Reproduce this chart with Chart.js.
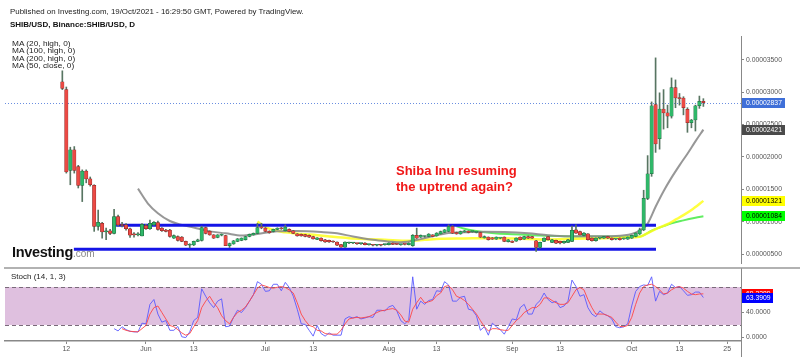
<!DOCTYPE html>
<html>
<head>
<meta charset="utf-8">
<script src="https://cdn.jsdelivr.net/npm/chart.js@4.4.0/dist/chart.umd.min.js"></script>
<style>
  html, body { margin: 0; padding: 0; background: #fff; }
  body { width: 800px; height: 357px; position: relative; overflow: hidden; font-family: 'Liberation Sans', Arial, sans-serif; }
  .abs { position: absolute; white-space: nowrap; }
  #mainWrap { position: absolute; left: 0; top: 0; width: 800px; height: 270px; }
  #stochWrap { position: absolute; left: 0; top: 262px; width: 800px; height: 95px; }
  .ma { font-size: 8.3px; line-height: 9.4px; color: #222; transform: scaleY(0.8); transform-origin: 0 0; }
</style>
</head>
<body>
<div id="mainWrap"><canvas id="mainChart"></canvas></div>
<div id="stochWrap"><canvas id="stochChart"></canvas></div>

<div class="abs" style="left:10px;top:7px;font-size:7.9px;line-height:9px;color:#222">Published on Investing.com, 19/Oct/2021 - 16:29:50 GMT, Powered by TradingView.</div>
<div class="abs" style="left:10px;top:20px;font-size:8px;line-height:9px;font-weight:bold;color:#111">SHIB/USD, Binance:SHIB/USD, D</div>
<div class="abs ma" style="left:12px;top:39.5px">MA (20, high, 0)<br>MA (100, high, 0)<br>MA (200, high, 0)<br>MA (50, close, 0)</div>
<div class="abs" style="left:396px;top:163px;font-size:13px;line-height:16px;font-weight:bold;color:#f01818">Shiba Inu resuming<br>the uptrend again?</div>
<div class="abs" style="left:12px;top:244px;line-height:16px;color:#111"><span style="font-size:14.5px;font-weight:bold;letter-spacing:-0.3px">Investing</span><span style="font-size:10px;color:#888">.com</span></div>
<div class="abs" style="left:11px;top:272px;font-size:8px;line-height:9px;color:#222">Stoch (14, 1, 3)</div>

<script>
// Daily candles, day 0 = 12 May 2021, first candle = 11 May, last = 19 Oct
// prices in millionths of a USD (x 0.000001)
const firstDay = -1;
const opens = [
  31.6, 30.4, 17.9, 21.1, 18.5, 15.6, 17.8, 16.6, 15.6, 9.25,
  9.75, 8.4, 8.6, 8.2, 10.8, 9.5, 9.5, 8.9, 8.0, 7.95,
  7.8, 9.4, 8.9, 9.5, 9.85, 9.0, 8.7, 8.7, 7.45, 7.7,
  7.6, 6.95, 6.35, 6.4, 6.95, 7.1, 9.1, 8.5, 7.95, 7.55,
  7.9, 7.85, 6.3, 6.55, 6.95, 7.1, 7.2, 7.7, 7.95, 8.2,
  9.1, 9.0, 8.5, 8.5, 8.8, 9.0, 8.6, 8.8, 8.6, 8.1,
  8.05, 8.0, 7.9, 7.7, 7.25, 7.45, 7.2, 7.1, 7.0, 6.85,
  6.45, 6.05, 6.7, 6.7, 6.62, 6.6, 6.7, 6.45, 6.37, 6.35,
  6.37, 6.45, 6.45, 6.7, 6.55, 6.45, 6.5, 6.43, 6.3, 7.87,
  7.6, 7.7, 7.7, 7.95, 7.8, 8.1, 8.35, 8.5, 9.24, 8.32,
  8.11, 8.4, 8.55, 8.45, 8.35, 8.32, 7.5, 7.6, 7.5, 7.3,
  7.45, 7.6, 6.9, 7.0, 7.0, 7.6, 7.3, 7.71, 7.7, 7.05,
  6.03, 6.95, 7.71, 6.8, 7.1, 6.95, 6.7, 6.8, 6.95, 8.72,
  8.48, 7.87, 8.11, 7.45, 7.05, 7.45, 7.45, 7.71, 7.45, 7.3,
  7.45, 7.35, 7.3, 7.45, 7.7, 8.1, 8.72, 13.6, 17.4, 28.1,
  22.8, 27.4, 26.8, 26.3, 30.7, 29.1, 29.1, 27.35, 25.3, 25.7,
  27.9, 28.6
];
const highs = [
  33.3, 30.8, 21.5, 21.6, 18.7, 18.0, 18.0, 16.9, 15.7, 11.8,
  9.9, 9.0, 8.8, 11.9, 11.0, 9.9, 9.7, 9.0, 8.3, 8.3,
  9.7, 9.6, 10.25, 10.0, 10.1, 9.1, 8.8, 8.8, 7.95, 7.8,
  7.7, 7.0, 6.6, 7.0, 7.3, 9.3, 9.2, 8.6, 8.0, 8.0,
  8.1, 7.9, 6.7, 7.1, 7.4, 7.5, 7.75, 8.1, 8.25, 9.75,
  9.75, 9.1, 8.6, 8.85, 9.05, 9.1, 9.5, 8.9, 8.65, 8.15,
  8.1, 8.05, 7.95, 7.75, 7.55, 7.5, 7.25, 7.15, 7.05, 6.9,
  6.5, 6.9, 6.85, 6.8, 6.7, 6.7, 6.75, 6.55, 6.45, 6.45,
  6.45, 6.55, 6.75, 6.75, 6.6, 6.5, 6.55, 6.75, 8.0, 9.0,
  7.95, 7.8, 8.15, 8.0, 8.3, 8.55, 8.8, 9.5, 9.4, 8.4,
  8.55, 8.65, 8.6, 8.55, 8.45, 8.4, 7.8, 7.65, 7.55, 7.65,
  7.55, 7.65, 7.25, 7.05, 7.5, 7.65, 7.75, 7.8, 7.75, 7.1,
  6.85, 7.5, 7.75, 7.25, 7.15, 7.0, 7.0, 7.25, 9.3, 9.5,
  8.55, 8.3, 8.15, 7.5, 7.5, 7.55, 7.75, 7.75, 7.5, 7.4,
  7.5, 7.45, 7.65, 7.9, 8.3, 9.0, 14.85, 20.2, 28.5, 35.3,
  29.9, 30.4, 28.0, 32.2, 31.9, 29.8, 29.3, 27.6, 25.8, 28.0,
  29.4, 29.0
];
const lows = [
  30.4, 17.5, 15.7, 17.5, 15.2, 13.1, 16.0, 15.5, 8.5, 8.7,
  7.45, 7.2, 8.0, 8.1, 9.3, 9.2, 8.7, 7.55, 7.6, 7.8,
  7.8, 8.8, 8.8, 9.4, 8.7, 8.5, 8.4, 7.6, 7.4, 7.0,
  6.9, 6.3, 5.95, 6.3, 6.9, 7.0, 8.1, 7.9, 7.4, 7.5,
  7.8, 6.3, 6.0, 6.5, 6.9, 7.05, 7.15, 7.65, 7.9, 8.15,
  8.9, 8.4, 8.2, 8.4, 8.75, 8.8, 8.55, 8.4, 8.15, 7.75,
  7.75, 7.65, 7.55, 7.3, 7.2, 7.0, 6.8, 6.8, 6.8, 6.3,
  6.0, 6.0, 6.6, 6.6, 6.5, 6.5, 6.4, 6.35, 6.25, 6.25,
  6.25, 6.35, 6.4, 6.45, 6.45, 6.35, 6.4, 6.4, 6.2, 7.4,
  7.55, 7.6, 7.65, 7.65, 7.75, 8.05, 8.3, 8.45, 8.15, 8.05,
  8.05, 8.35, 8.25, 8.35, 8.25, 7.55, 7.45, 7.15, 7.25, 7.25,
  7.35, 6.9, 6.85, 6.75, 6.95, 7.15, 7.25, 7.4, 7.4, 5.4,
  5.9, 6.9, 7.15, 6.75, 6.6, 6.55, 6.65, 6.75, 6.9, 8.2,
  7.9, 7.8, 7.15, 7.0, 7.0, 7.35, 7.4, 7.4, 7.15, 7.2,
  7.15, 7.25, 7.25, 7.4, 7.65, 8.0, 8.6, 13.4, 17.0, 20.7,
  21.2, 24.3, 24.5, 26.0, 27.6, 28.0, 26.5, 23.8, 24.5, 24.0,
  27.5, 27.8
];
const closes = [
  30.6, 17.7, 21.1, 17.9, 15.6, 17.8, 16.6, 15.7, 9.25, 9.9,
  8.4, 8.6, 8.2, 10.8, 9.5, 9.4, 8.9, 7.9, 7.95, 8.1,
  9.6, 8.9, 9.75, 9.9, 8.8, 8.6, 8.5, 7.7, 7.85, 7.1,
  6.95, 6.35, 6.5, 6.95, 7.2, 9.1, 8.2, 7.95, 7.45, 7.95,
  8.05, 6.3, 6.6, 7.05, 7.35, 7.45, 7.7, 8.05, 8.2, 9.1,
  9.05, 8.5, 8.3, 8.8, 9.0, 8.9, 9.15, 8.5, 8.2, 7.8,
  7.8, 7.7, 7.6, 7.35, 7.5, 7.05, 6.85, 6.85, 6.85, 6.35,
  6.05, 6.85, 6.7, 6.72, 6.6, 6.6, 6.45, 6.45, 6.35, 6.37,
  6.35, 6.45, 6.7, 6.5, 6.5, 6.45, 6.48, 6.69, 7.87, 7.45,
  7.87, 7.72, 8.07, 7.71, 8.22, 8.48, 8.72, 9.24, 8.22, 8.11,
  8.48, 8.6, 8.32, 8.45, 8.35, 7.6, 7.7, 7.2, 7.3, 7.6,
  7.45, 6.95, 7.2, 6.8, 7.45, 7.2, 7.71, 7.45, 7.45, 6.03,
  6.8, 7.45, 7.2, 7.2, 6.69, 6.7, 6.95, 7.2, 8.65, 8.22,
  7.95, 8.22, 7.2, 7.05, 7.45, 7.45, 7.71, 7.45, 7.2, 7.3,
  7.2, 7.35, 7.6, 7.87, 8.22, 8.72, 13.6, 17.4, 27.9, 22.0,
  27.4, 26.8, 26.3, 30.7, 29.1, 29.0, 27.6, 25.3, 25.7, 27.9,
  28.6, 28.37
];

// moving averages: [day, value]
const ma20High = [[18,15.1],[20.5,12.8],[23,11.3],[26,10.1],[29,9.5],[32,9.1],[36,8.5],[40,8.2],[44,7.85],[48,8.1],
  [53,8.5],[58,8.55],[64,8.4],[68,8.2],[72,7.7],[77,7.2],[81,6.95],[84,6.8],[89,7.3],[93,7.9],[96,8.25],[100,8.35],
  [105,8.45],[110,8.4],[116,8.2],[121,7.9],[126,7.75],[132,7.75],[138,7.8],[142,8.1],[144,8.6],[146,9.7],
  [148,12.3],[150,14.7],[152,16.8],[154,18.7],[156,20.5],[158,22.4],[160,24.21]];
const ma50Close = [[48,10.0],[50,9.2],[52,8.7],[55,8.35],[59,8.1],[63,7.9],[67,7.65],[71,7.45],[76,7.3],[80,7.2],
  [86,7.05],[90,7.2],[94,7.35],[100,7.4],[106,7.45],[113,7.4],[121,7.25],[128,7.35],[135,7.45],[141,7.55],
  [144,7.65],[146.5,8.4],[149,9.1],[151,9.6],[153,10.3],[155,11.0],[157,11.8],[160,13.21]];
const ma100High = [[98,9.3],[100,8.9],[102.5,8.6],[107.5,8.2],[112,8.05],[116,7.95],[119,7.85],[125,7.75],
  [132,7.7],[138,7.7],[144,7.7],[147,8.6],[150,9.3],[152,9.75],[155,10.2],[158,10.6],[160,10.84]];

// drawn support / resistance
const resistance = { value: 9.44, from: 12.5, to: 148.1 };
const support = { value: 5.75, from: 1.9, to: 148.1 };
const lastPrice = 28.37;

// price axis
const priceTicks = [5, 10, 15, 20, 25, 30, 35];
const priceTags = [
  { value: 28.37, text: '0.00002837', bg: '#3f6fd8', fg: '#fff' },
  { value: 24.21, text: '0.00002421', bg: '#4a4a4a', fg: '#fff' },
  { value: 13.21, text: '0.00001321', bg: '#ffff00', fg: '#000' },
  { value: 10.84, text: '0.00001084', bg: '#00ff00', fg: '#000' }
];

// stochastic (14,1,3)
const kStartDay = 12;
const stochK = [
  14.1, 10.5, 17.2, 12.6, 10.0, 9.0, 9.0, 22.8, 21.8, 52.6, 60.3, 37.2, 24.4, 26.9, 11.5, 11.5, 17.7, 1.3, 0, 9.0,
  26.9, 32.0, 77.2, 65.4, 55.1, 47.4, 57.7, 61.3, 17.2, 18.2, 32.0, 43.3, 39.7, 47.4, 57.7, 67.9, 88.5, 84.4, 73.1, 74.1,
  84.4, 84.4, 74.1, 87.4, 79.2, 65.4, 44.9, 21.8, 20.8, 11.5, 2.3, 19.2, 6.4, 2.3, 7.4, 3.8, 3.8, 3.8, 29.5, 33.1,
  31.0, 33.1, 29.5, 31.0, 33.1, 32.0, 43.3, 43.3, 42.3, 48.5, 51.0, 42.3, 26.9,
  21.8, 28, 96.2, 44.9, 57.7, 52.6, 58.7, 60.3, 74.1, 73.1, 88.5, 83.3, 57.7, 57.7, 63.8, 65.4, 44.9, 43.3, 34.6, 11.5,
  17.2, 3.8, 22.8, 17.2, 12.6, 5.4, 17.2, 29.5, 28, 47.4, 52.6, 37.2, 37.2, 52.6, 58.7, 70.5, 60.3, 55.1, 57.7, 47.4,
  50, 57.7, 91.0, 80.8, 65.4, 67.9, 47.4, 37.2, 33.1, 42.3, 37.2, 34.6, 29.5, 17.2, 15.6, 17.2, 21.8, 50, 73.1, 80.8,
  83.3, 82.3, 96.2, 57.7, 73.1, 67.9, 70.5, 84.4, 79.2, 80.8, 74.1, 66.9, 67.9, 72, 72, 63.39
];
const dStartDay = 14;
const stochD = [
  14.1, 11.5, 10.0, 9.5, 9.0, 14.1, 19.2, 37.2, 47.4, 50, 39.7, 29.5, 19.2, 17.2, 12.6, 7.4, 3.8, 6.4, 17.2, 26.9,
  47.4, 57.7, 65.4, 55.1, 47.4, 34.6, 26.9, 21.8, 32.0, 39.7, 43.3, 48.5, 57.7, 67.9, 78.2, 83.3, 81.5, 79.2, 78.2, 79.7,
  80.8, 79.2, 75.6, 70.5, 55.1, 37.2, 26.9, 19.2, 17.2, 11.5, 10.5, 6.4, 5.4, 5.4, 5.4, 11.5, 21.8, 29.5, 31.0, 32.0,
  31.0, 32.0, 33.1, 36.2, 39.7, 42.3, 43.3, 44.9, 45.9, 43.3, 36,
  26.2, 24.4, 44.9, 55.1, 63.8, 55.1, 56.7, 58.7, 66.4, 70.5, 80.8, 82.3, 75.6, 65.4, 62.8, 58.7, 52.6, 44.9, 37.2, 26.9,
  17.2, 10.5, 14.1, 14.1, 12.6, 11.5, 11.5, 19.2, 26.9, 32.0, 39.7, 43.3, 47.4, 47.4, 52.6, 62.8, 62.8, 58.7, 55.1, 52.6,
  52.6, 55.1, 65.4, 75.6, 79.2, 75.6, 60.3, 47.4, 37.2, 37.2, 37.2, 34.6, 32.0, 24.4, 17.7, 17.2, 19.2, 32.0, 52.6, 70.5,
  80.8, 83.3, 84.4, 80.8, 75.6, 69.0, 70.5, 75.6, 79.2, 80.8, 78.2, 73.1, 69.0, 67.9, 69.0, 69.23
];
const stochBand = [20, 80];
const stochTicks = [0, 40];
const stochTags = [
  { value: 69.23, text: '69.2289', bg: '#ff0000', fg: '#fff' },
  { value: 63.39, text: '63.3909', bg: '#0000ff', fg: '#fff' }
];

// date axis
const tickDays = [0, 20, 32, 50, 62, 81, 93, 112, 124, 142, 154, 166];
const tickLabels = ['12', 'Jun', '13', 'Jul', '13', 'Aug', '13', 'Sep', '13', 'Oct', '13', '25'];
const xMin = -15.4, xMax = 169.45;

const FONT = "'Liberation Sans', Arial, sans-serif";
Chart.defaults.font.family = FONT;
Chart.defaults.animation = false;
Chart.defaults.plugins.legend.display = false;
Chart.defaults.plugins.tooltip.enabled = false;

const dayOf = i => firstDay + i;
const up = opens.map((o, i) => closes[i] >= o);

function drawTag(ctx, x, y, tag, w) {
  ctx.save();
  ctx.fillStyle = tag.bg;
  ctx.fillRect(x, Math.round(y) - 5, w, 10);
  ctx.fillStyle = tag.fg;
  ctx.font = '6.8px ' + FONT;
  ctx.textBaseline = 'middle';
  ctx.textAlign = 'left';
  ctx.fillText(tag.text, x + 4, Math.round(y) + 0.5);
  ctx.restore();
}

const mainDecor = {
  id: 'mainDecor',
  beforeDatasetsDraw(chart) {
    const { ctx, chartArea, scales } = chart;
    const y = scales.y.getPixelForValue(lastPrice);
    ctx.save();
    ctx.strokeStyle = '#6a8ee0';
    ctx.lineWidth = 1;
    ctx.setLineDash([1, 2]);
    ctx.beginPath();
    ctx.moveTo(chartArea.left, Math.round(y) + 0.5);
    ctx.lineTo(chartArea.right, Math.round(y) + 0.5);
    ctx.stroke();
    ctx.restore();
  },
  afterDraw(chart) {
    const { ctx, chartArea, scales } = chart;
    priceTags.forEach(t => drawTag(ctx, chartArea.right + 1, scales.y.getPixelForValue(t.value), t, 43));
  }
};

const stochDecor = {
  id: 'stochDecor',
  beforeDatasetsDraw(chart) {
    const { ctx, chartArea, scales } = chart;
    const yTop = scales.y.getPixelForValue(stochBand[1]);
    const yBot = scales.y.getPixelForValue(stochBand[0]);
    ctx.save();
    ctx.fillStyle = '#dfc0df';
    ctx.fillRect(chartArea.left, yTop, chartArea.right - chartArea.left, yBot - yTop);
    ctx.strokeStyle = '#7a6a7a';
    ctx.lineWidth = 1;
    ctx.setLineDash([4, 3]);
    [yTop, yBot].forEach(y => {
      ctx.beginPath();
      ctx.moveTo(chartArea.left, Math.round(y) + 0.5);
      ctx.lineTo(chartArea.right, Math.round(y) + 0.5);
      ctx.stroke();
    });
    ctx.restore();
  },
  afterDraw(chart) {
    const { ctx, chartArea, scales, height } = chart;
    ctx.save();
    ctx.strokeStyle = '#999';
    ctx.lineWidth = 1.5;
    ctx.beginPath();
    ctx.moveTo(4, chartArea.top);
    ctx.lineTo(800, chartArea.top);
    ctx.stroke();
    ctx.lineWidth = 1;
    ctx.strokeStyle = '#888';
    ctx.beginPath();
    ctx.moveTo(chartArea.right + 0.5, chartArea.bottom);
    ctx.lineTo(chartArea.right + 0.5, height);
    ctx.stroke();
    ctx.restore();
    stochTags.forEach(t => drawTag(ctx, chartArea.right + 1, scales.y.getPixelForValue(t.value), t, 31));
  }
};

const yAxisCommon = {
  position: 'right',
  afterFit: s => { s.width = 59; },
  grid: { display: true, drawOnChartArea: false, drawTicks: true, tickLength: 3, color: '#888' },
  border: { display: true, color: '#888', width: 1 },
  ticks: { color: '#555', font: { size: 6.8 }, padding: 2 }
};

new Chart(document.getElementById('mainChart'), {
  type: 'bar',
  data: {
    datasets: [
      {
        type: 'bar', label: 'body', order: 0, grouped: false,
        data: opens.map((o, i) => ({ x: dayOf(i), y: [o, closes[i]] })),
        backgroundColor: up.map(u => u ? '#2fb869' : '#ec4a44'),
        borderColor: up.map(u => u ? '#1d5c36' : '#7d2222'),
        borderWidth: 0.5, borderSkipped: false, barThickness: 3.4, minBarLength: 1
      },
      {
        type: 'bar', label: 'wick', order: 1, grouped: false,
        data: lows.map((l, i) => ({ x: dayOf(i), y: [l, highs[i]] })),
        backgroundColor: '#587562', barThickness: 1, minBarLength: 1
      },
      {
        type: 'line', label: 'resistance', order: 2,
        data: [{ x: resistance.from, y: resistance.value }, { x: resistance.to, y: resistance.value }],
        borderColor: '#1414e6', borderWidth: 3, pointRadius: 0
      },
      {
        type: 'line', label: 'support', order: 2,
        data: [{ x: support.from, y: support.value }, { x: support.to, y: support.value }],
        borderColor: '#1414e6', borderWidth: 3, pointRadius: 0
      },
      {
        type: 'line', label: 'MA 20 high', order: 3,
        data: ma20High.map(p => ({ x: p[0], y: p[1] })),
        borderColor: 'rgba(140,140,140,0.9)', borderWidth: 2, pointRadius: 0, cubicInterpolationMode: 'monotone'
      },
      {
        type: 'line', label: 'MA 50 close', order: 3,
        data: ma50Close.map(p => ({ x: p[0], y: p[1] })),
        borderColor: 'rgba(255,255,30,0.85)', borderWidth: 2.5, pointRadius: 0, cubicInterpolationMode: 'monotone'
      },
      {
        type: 'line', label: 'MA 100 high', order: 3,
        data: ma100High.map(p => ({ x: p[0], y: p[1] })),
        borderColor: 'rgba(80,235,80,0.9)', borderWidth: 2, pointRadius: 0, cubicInterpolationMode: 'monotone'
      }
    ]
  },
  options: {
    responsive: true,
    maintainAspectRatio: false,
    layout: { padding: { top: 36, bottom: 4, left: 5, right: 0 } },
    scales: {
      x: { type: 'linear', min: xMin, max: xMax, offset: false, display: false },
      y: Object.assign({}, yAxisCommon, {
        min: 3.47, max: 38.68,
        afterBuildTicks: s => { s.ticks = priceTicks.map(v => ({ value: v })); },
        ticks: Object.assign({}, yAxisCommon.ticks, { callback: v => (v / 1e6).toFixed(8) })
      })
    }
  },
  plugins: [mainDecor]
});

new Chart(document.getElementById('stochChart'), {
  type: 'line',
  data: {
    datasets: [
      {
        label: '%D', data: stochD.map((v, i) => ({ x: dStartDay + i, y: v })),
        borderColor: 'rgba(255,70,70,0.9)', borderWidth: 1, pointRadius: 0
      },
      {
        label: '%K', data: stochK.map((v, i) => ({ x: kStartDay + i, y: v })),
        borderColor: 'rgba(90,90,255,0.9)', borderWidth: 1, pointRadius: 0
      }
    ]
  },
  options: {
    responsive: true,
    maintainAspectRatio: false,
    layout: { padding: { top: 4, bottom: 0, left: 5, right: 0 } },
    scales: {
      x: {
        type: 'linear', min: xMin, max: xMax, offset: false,
        afterFit: s => { s.height = 16; },
        afterBuildTicks: s => { s.ticks = tickDays.map(v => ({ value: v })); },
        grid: { display: true, drawOnChartArea: false, drawTicks: true, tickLength: 3, color: '#888' },
        border: { display: true, color: '#888', width: 1.5 },
        ticks: {
          autoSkip: false, maxRotation: 0, padding: 1, color: '#555', font: { size: 7 },
          callback: v => { const k = tickDays.indexOf(v); return k >= 0 ? tickLabels[k] : ''; }
        }
      },
      y: Object.assign({}, yAxisCommon, {
        min: -5.4, max: 110,
        afterBuildTicks: s => { s.ticks = stochTicks.map(v => ({ value: v })); },
        ticks: Object.assign({}, yAxisCommon.ticks, { callback: v => v.toFixed(4) })
      })
    }
  },
  plugins: [stochDecor]
});
</script>
</body>
</html>
